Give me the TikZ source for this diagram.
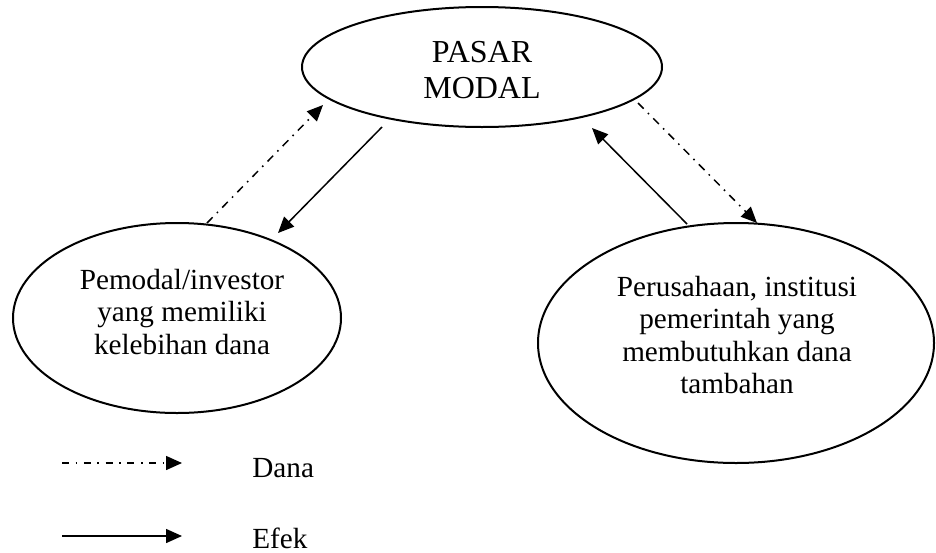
\documentclass[tikz,border=0pt]{standalone}
\usepackage{fontspec}
\setmainfont{Liberation Serif}
\usetikzlibrary{shapes.geometric, arrows.meta, positioning}

\begin{document}
\begin{tikzpicture}[
    x=0.5pt, y=-0.5pt,
    font=\fontsize{14.6}{16.3}\selectfont,
    blob/.style={draw, ellipse, line width=1pt, inner sep=0pt},
    txt/.style={align=center},
    efek/.style={-{Triangle[length=8pt,width=7pt]}, line width=0.75pt},
    dana/.style={efek, dash pattern=on 4pt off 3pt on 0.8pt off 3pt}
]
    \useasboundingbox (0,0) rectangle (936,552);

    % Ellipses
    \node[blob, minimum width=180pt, minimum height=60pt] (pasar) at (482,67) {};
    \node[blob, minimum width=164pt, minimum height=95pt] (pemodal) at (177,318) {};
    \node[blob, minimum width=198pt, minimum height=120pt] (perusahaan) at (736,343) {};

    % Texts
    \node[txt, font=\fontsize{16}{18}\selectfont] (pasartxt) at (482,70) {PASAR\\MODAL};
    \node[txt] (pemodaltxt) at (182,312) {Pemodal/investor\\yang memiliki\\kelebihan dana};
    \node[txt] (perusahaantxt) at (737,335) {Perusahaan, institusi\\pemerintah yang\\membutuhkan dana\\tambahan};

    % Arrow end points
    \coordinate (danaLs) at (207,223);
    \coordinate (danaLe) at (323,105);
    \coordinate (efekLs) at (382,127);
    \coordinate (efekLe) at (278,233);
    \coordinate (efekRs) at (687,224);
    \coordinate (efekRe) at (592,128);
    \coordinate (danaRs) at (638,103);
    \coordinate (danaRe) at (757,223);

    \draw[dana] (danaLs) -- (danaLe);
    \draw[efek] (efekLs) -- (efekLe);
    \draw[efek] (efekRs) -- (efekRe);
    \draw[dana] (danaRs) -- (danaRe);

    % Legend
    \coordinate (legDs) at (62,463);
    \coordinate (legDe) at (182,463);
    \coordinate (legEs) at (62,536);
    \coordinate (legEe) at (182,536);
    \draw[dana, dash pattern=on 3.5pt off 3.3pt on 0.8pt off 3.3pt] (legDs) -- (legDe);
    \draw[efek] (legEs) -- (legEe);
    \node[anchor=base west, inner sep=0pt] (legdana) at (252,477) {Dana};
    \node[anchor=base west, inner sep=0pt] (legefek) at (252,548) {Efek};

\end{tikzpicture}
\end{document}
